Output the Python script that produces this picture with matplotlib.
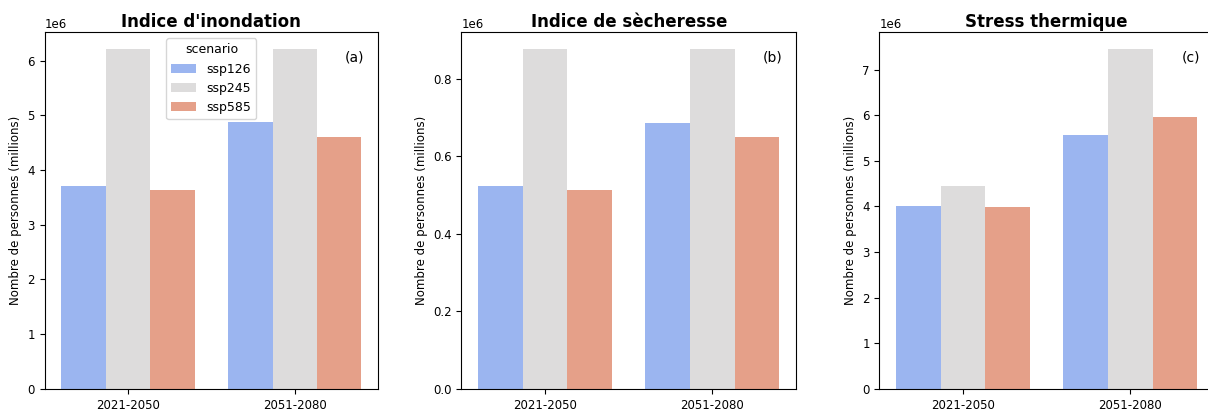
import numpy as np
import pandas as pd
import matplotlib
matplotlib.use("Agg")
import matplotlib.pyplot as plt
import seaborn as sns

PERIODS = ["2021-2050", "2051-2080"]
SCENARIOS = ["ssp126", "ssp245", "ssp585"]

# personnes exposées, valeurs brutes (ordre: période x scénario)
flood = [[3.71e6, 6.21e6, 3.63e6],
         [4.87e6, 6.21e6, 4.61e6]]
drought = [[0.523e6, 0.876e6, 0.512e6],
           [0.686e6, 0.876e6, 0.649e6]]
heat = [[4.005e6, 4.46e6, 3.98e6],
        [5.56e6, 7.45e6, 5.97e6]]

PANELS = [
    ("Indice d'inondation", flood, "(a)"),
    ("Indice de sècheresse", drought, "(b)"),
    ("Stress thermique", heat, "(c)"),
]


def to_frame(vals):
    rows = []
    for i, p in enumerate(PERIODS):
        for j, s in enumerate(SCENARIOS):
            rows.append({"period": p, "scenario": s, "value": vals[i][j]})
    return pd.DataFrame(rows)


fig = plt.figure(figsize=(12.08, 4.12), dpi=100)
lefts = [0.037, 0.382, 0.728]
widths = [0.276, 0.277, 0.277]  # le panneau (c) déborde à droite comme l'original
for k, (title, vals, tag) in enumerate(PANELS):
    ax = fig.add_axes([lefts[k], 0.056, widths[k], 0.866])
    df = to_frame(vals)
    sns.barplot(data=df, x="period", y="value", hue="scenario",
                palette="coolwarm", ax=ax, legend=(k == 0))
    ax.ticklabel_format(axis="y", style="sci", scilimits=(6, 6))
    ax.set_title(title, fontsize=12, fontweight="bold", pad=4)
    ax.set_xlabel("")
    ax.set_ylabel("Nombre de personnes (millions)", fontsize=8.5)
    ax.tick_params(labelsize=8.5)
    ax.yaxis.get_offset_text().set_fontsize(8.5)
    ax.text(0.93, 0.93, tag, transform=ax.transAxes, ha="center", va="center",
            fontsize=10)
    if k == 0:
        ax.legend(title="scenario", loc="upper center", fontsize=9,
                  title_fontsize=9)

fig.savefig("out.png", dpi=100)
